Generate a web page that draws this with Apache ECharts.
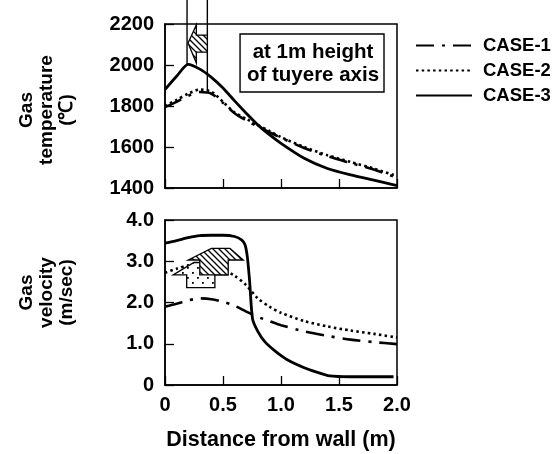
<!DOCTYPE html>
<html>
<head>
<meta charset="utf-8">
<script src="https://cdn.jsdelivr.net/npm/echarts@6/dist/echarts.min.js"></script>
<style>
html,body{margin:0;padding:0;background:#fff;}
#chart{width:553px;height:454px;}
</style>
</head>
<body>
<div id="chart"></div>
<script>
// ---- data ----
const seriesNames = ['CASE-1', 'CASE-2', 'CASE-3'];
const xTicks = [0, 0.5, 1.0, 1.5, 2.0];
const tempTicks = [1400, 1600, 1800, 2000, 2200];
const velTicks = [0, 1.0, 2.0, 3.0, 4.0];

const tempX = [0, 0.1, 0.2, 0.3, 0.4, 0.5, 0.6, 0.7, 0.8, 0.9, 1.0, 1.2, 1.4, 1.6, 1.8, 2.0];
const tempCase1 = [1795, 1820, 1850, 1868, 1860, 1815, 1765, 1730, 1700, 1672, 1645, 1595, 1555, 1522, 1490, 1450];
const tempCase2 = [1800, 1830, 1860, 1880, 1870, 1820, 1768, 1738, 1707, 1678, 1648, 1600, 1560, 1527, 1495, 1458];
const tempCase3 = [1880, 1945, 2003, 1980, 1940, 1888, 1825, 1765, 1708, 1660, 1618, 1545, 1495, 1464, 1438, 1412];

const velX = [0, 0.1, 0.2, 0.3, 0.4, 0.5, 0.6, 0.7, 0.8, 0.9, 1.0, 1.2, 1.4, 1.6, 1.8, 2.0];
const velCase1 = [1.9, 1.97, 2.05, 2.1, 2.08, 2.02, 1.92, 1.78, 1.65, 1.55, 1.45, 1.3, 1.19, 1.1, 1.04, 0.99];
const velCase2 = [2.72, 2.82, 2.9, 2.93, 2.88, 2.8, 2.65, 2.42, 2.1, 1.9, 1.75, 1.55, 1.42, 1.32, 1.24, 1.15];
const vel3X = [0, 0.1, 0.2, 0.3, 0.4, 0.5, 0.6, 0.66, 0.69, 0.71, 0.73, 0.755, 0.8, 0.86, 0.95, 1.05, 1.2, 1.3, 1.42, 1.6, 1.8, 1.97];
const velCase3 = [3.44, 3.5, 3.57, 3.62, 3.63, 3.63, 3.6, 3.52, 3.4, 3.1, 2.5, 1.6, 1.3, 1.05, 0.82, 0.62, 0.42, 0.32, 0.22, 0.2, 0.2, 0.2];

// annotation anchors (data coords)
const noteLines = [0.19, 0.365];
const noteText = 'at 1m height\nof tuyere axis';

// ---- build ----
const pair = (xs, ys) => xs.map((x, i) => [x, ys[i]]);
const FONT = '"Liberation Sans", Arial, Helvetica, sans-serif';
const lineTypes = [[18, 8, 3, 8], [2.5, 3.2], 'solid'];

function fmtNum(v) { return v === 0 ? '0' : v.toFixed(1); }
function fmtInt(v) { return String(Math.round(v)); }

const chart = echarts.init(document.getElementById('chart'), null, {renderer: 'canvas'});

function mkSeries(name, idx, data, k) {
  return {
    name: name, type: 'line', xAxisIndex: idx, yAxisIndex: idx,
    data: data, symbol: 'none', legendIcon: 'none', smooth: 0.25, z: 3,
    lineStyle: {color: '#000', width: k === 2 ? 2.8 : 2.6, type: lineTypes[k]},
    itemStyle: {color: '#000'}
  };
}

const labelStyle = {color: '#000', fontFamily: FONT, fontWeight: 'bold', fontSize: 20};
const axisCommon = {
  axisLine: {show: true, lineStyle: {color: '#000', width: 1.5}},
  axisTick: {show: true, inside: true, length: 9, lineStyle: {color: '#000', width: 1.3}},
  splitLine: {show: false}
};

const option = {
  animation: false,
  backgroundColor: '#fff',
  legend: {
    data: seriesNames, orient: 'vertical', left: 410, top: 31,
    itemWidth: 56, itemHeight: 14, itemGap: 6,
    itemStyle: {opacity: 0},
    textStyle: {color: '#000', fontFamily: FONT, fontWeight: 'bold', fontSize: 18.5, padding: [0, 0, 0, 6]}
  },
  grid: [
    {left: 165, top: 24, width: 232, height: 164, show: true, borderColor: '#000', borderWidth: 1.5, backgroundColor: 'transparent'},
    {left: 165, top: 220, width: 232, height: 165, show: true, borderColor: '#000', borderWidth: 1.5, backgroundColor: 'transparent'}
  ],
  xAxis: [
    Object.assign({}, axisCommon, {type: 'value', gridIndex: 0, min: 0, max: 2, interval: 0.5,
      axisLabel: {show: false}}),
    Object.assign({}, axisCommon, {type: 'value', gridIndex: 1, min: 0, max: 2, interval: 0.5,
      axisLabel: Object.assign({}, labelStyle, {margin: 10, formatter: fmtNum}),
      name: 'Distance from wall (m)', nameLocation: 'middle', nameGap: 44,
      nameTextStyle: {color: '#000', fontFamily: FONT, fontWeight: 'bold', fontSize: 21.5}})
  ],
  yAxis: [
    Object.assign({}, axisCommon, {type: 'value', gridIndex: 0, min: 1400, max: 2200, interval: 200,
      axisLabel: Object.assign({}, labelStyle, {margin: 11, formatter: fmtInt})}),
    Object.assign({}, axisCommon, {type: 'value', gridIndex: 1, min: 0, max: 4, interval: 1,
      axisLabel: Object.assign({}, labelStyle, {margin: 11, formatter: fmtNum})})
  ],
  series: [
    mkSeries(seriesNames[0], 0, pair(tempX, tempCase1), 0),
    mkSeries(seriesNames[1], 0, pair(tempX, tempCase2), 1),
    mkSeries(seriesNames[2], 0, pair(tempX, tempCase3), 2),
    mkSeries(seriesNames[0], 1, pair(velX, velCase1), 0),
    mkSeries(seriesNames[1], 1, pair(velX, velCase2), 1),
    mkSeries(seriesNames[2], 1, pair(vel3X, velCase3), 2)
  ]
};
chart.setOption(option);

// ---- annotations (positions derived from data coords) ----
function P(g, x, y) { return chart.convertToPixel({gridIndex: g}, [x, y]); }

function hatchPattern() {
  const c = document.createElement('canvas');
  c.width = 6; c.height = 6;
  const ctx = c.getContext('2d');
  ctx.fillStyle = '#fff'; ctx.fillRect(0, 0, 6, 6);
  ctx.strokeStyle = '#000'; ctx.lineWidth = 1.3;
  ctx.beginPath();
  ctx.moveTo(-1, -1); ctx.lineTo(7, 7);
  ctx.moveTo(-1, 5); ctx.lineTo(1, 7);
  ctx.moveTo(5, -1); ctx.lineTo(7, 1);
  ctx.stroke();
  return {image: c, repeat: 'repeat'};
}
function dotPattern() {
  const c = document.createElement('canvas');
  c.width = 10; c.height = 10;
  const ctx = c.getContext('2d');
  ctx.fillStyle = '#fff'; ctx.fillRect(0, 0, 10, 10);
  ctx.fillStyle = '#000';
  ctx.fillRect(2, 2, 1.8, 1.8);
  ctx.fillRect(7, 7, 1.8, 1.8);
  return {image: c, repeat: 'repeat'};
}

const elems = [];
// vertical guide lines in the top panel
const l1a = P(0, noteLines[0], 2003);
const l2a = P(0, noteLines[1], 1872);
elems.push({type: 'line', shape: {x1: l1a[0], y1: 0, x2: l1a[0], y2: l1a[1]}, style: {stroke: '#000', lineWidth: 1.4}, z: 10});
elems.push({type: 'line', shape: {x1: l2a[0], y1: 0, x2: l2a[0], y2: l2a[1]}, style: {stroke: '#000', lineWidth: 1.4}, z: 10});
// left-pointing hatched arrow
(function () {
  const tip = P(0, noteLines[0], 2107);
  const hb = P(0, 0.27, 2195);
  const hb2 = P(0, 0.27, 2010);
  const s1 = P(0, noteLines[1], 2146);
  const s2 = P(0, noteLines[1], 2063);
  const pts = [[s1[0], s1[1]], [hb[0], s1[1]], [hb[0], hb[1]], [tip[0] + 1, tip[1]], [hb[0], hb2[1]], [hb[0], s2[1]], [s2[0], s2[1]]];
  elems.push({type: 'polygon', shape: {points: pts}, style: {fill: hatchPattern(), stroke: '#000', lineWidth: 1.3}, z: 11});
})();
// note box
(function () {
  const a = P(0, 0.647, 2151);
  const b = P(0, 1.888, 1868);
  elems.push({type: 'rect', shape: {x: a[0], y: a[1], width: b[0] - a[0], height: b[1] - a[1]},
    style: {fill: '#fff', stroke: '#000', lineWidth: 1.4}, z: 12});
  elems.push({type: 'text', x: (a[0] + b[0]) / 2 + 1, y: (a[1] + b[1]) / 2 + 1,
    style: {text: noteText, fill: '#000', font: 'bold 20.5px ' + FONT, textAlign: 'center', textVerticalAlign: 'middle', lineHeight: 23}, z: 13});
})();
// dotted up arrow (bottom panel)
(function () {
  const pts = [[0.187, 2.36], [0.187, 2.67], [0.07, 2.67], [0.25, 2.97], [0.33, 2.97], [0.53, 2.67], [0.43, 2.67], [0.43, 2.36]]
    .map(p => P(1, p[0], p[1]));
  elems.push({type: 'polygon', shape: {points: pts}, style: {fill: dotPattern(), stroke: '#000', lineWidth: 1.3}, z: 11});
})();
// hatched up arrow (bottom panel)
(function () {
  const pts = [[0.3, 2.67], [0.3, 3.03], [0.2, 3.03], [0.40, 3.31], [0.56, 3.31], [0.675, 3.03], [0.545, 3.03], [0.545, 2.67]]
    .map(p => P(1, p[0], p[1]));
  elems.push({type: 'polygon', shape: {points: pts}, style: {fill: hatchPattern(), stroke: '#000', lineWidth: 1.3}, z: 12});
})();
// y-axis titles
(function () {
  const t = P(0, 0, 1800);
  const v = P(1, 0, 2.0);
  elems.push({type: 'text', x: 47, y: t[1] + 4, rotation: Math.PI / 2,
    style: {text: 'Gas\ntemperature\n(\u2103)', fill: '#000', font: 'bold 19px ' + FONT, textAlign: 'center', textVerticalAlign: 'middle', lineHeight: 20}, z: 13});
  elems.push({type: 'text', x: 47, y: v[1] - 10, rotation: Math.PI / 2,
    style: {text: 'Gas\nvelocity\n(m/sec)', fill: '#000', font: 'bold 19px ' + FONT, textAlign: 'center', textVerticalAlign: 'middle', lineHeight: 20}, z: 13});
})();
chart.setOption({graphic: {elements: elems}});
</script>
</body>
</html>
